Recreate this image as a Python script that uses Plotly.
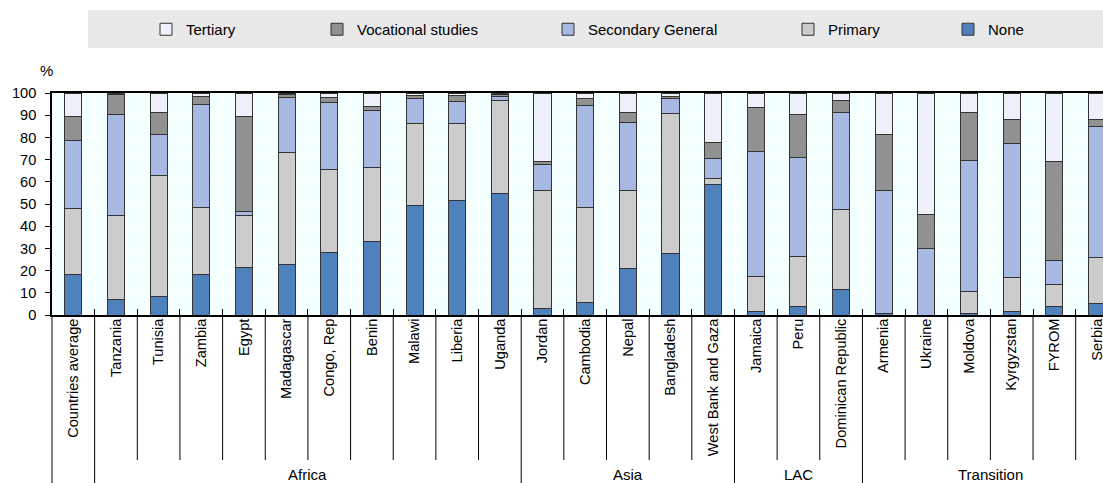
import plotly.graph_objects as go

countries = ["Countries average", "Tanzania", "Tunisia", "Zambia", "Egypt", "Madagascar",
             "Congo, Rep", "Benin", "Malawi", "Liberia", "Uganda", "Jordan", "Cambodia",
             "Nepal", "Bangladesh", "West Bank and Gaza", "Jamaica", "Peru",
             "Dominican Republic", "Armenia", "Ukraine", "Moldova", "Kyrgyzstan",
             "FYROM", "Serbia"]
regions = ["", "Africa", "Africa", "Africa", "Africa", "Africa", "Africa", "Africa",
           "Africa", "Africa", "Africa", "Asia", "Asia", "Asia", "Asia", "Asia",
           "LAC", "LAC", "LAC", "Transition", "Transition", "Transition",
           "Transition", "Transition", "Transition"]

none_vals = [18.4, 6.9, 8.4, 18.4, 21.5, 22.9, 28.3, 33.3, 49.2, 51.7, 54.8, 3.0, 5.7,
             21.1, 27.9, 58.9, 1.5, 3.8, 11.6, 0.5, 0.0, 0.8, 1.5, 3.9, 5.3]
primary_vals = [29.5, 38.1, 54.4, 30.1, 23.1, 50.4, 37.4, 33.3, 37.2, 34.7, 41.6, 53.2,
                42.8, 35.2, 62.9, 2.7, 15.7, 22.7, 36.1, 0.3, 0.0, 10.0, 15.5, 9.8, 20.6]
secondary_vals = [30.7, 45.2, 18.5, 46.2, 2.1, 24.7, 29.9, 25.3, 11.2, 9.8, 2.2, 11.4,
                  45.9, 30.4, 6.9, 8.7, 56.6, 44.3, 43.6, 55.4, 30.1, 58.9, 60.3, 10.8, 59.0]
vocational_vals = [10.7, 9.2, 10.0, 3.8, 42.6, 1.5, 2.6, 2.2, 1.5, 2.7, 0.8, 1.7, 3.0,
                   4.6, 0.6, 7.6, 19.7, 19.4, 5.1, 25.1, 15.1, 21.4, 10.8, 44.6, 3.1]
tertiary_vals = [10.7, 0.6, 8.7, 1.5, 10.7, 0.5, 1.8, 5.9, 0.9, 1.1, 0.6, 30.7, 2.6,
                 8.7, 1.7, 22.1, 6.5, 9.8, 3.6, 18.7, 54.8, 8.9, 11.9, 30.9, 12.0]

y_ticks = [0, 10, 20, 30, 40, 50, 60, 70, 80, 90, 100]

FONT = "Liberation Sans, Arial, sans-serif"
W, H = 1103, 483
ML, MR, MT, MB = 52, 0, 93, 168
PW = W - ML - MR
PH = H - MT - MB


def px_x(px):
    return (px - ML) / PW


def px_y(py):
    return (H - MB - py) / PH


series = [
    ("None", none_vals, "#4F81BD", "legend5", 948),
    ("Primary", primary_vals, "#CCCCCC", "legend4", 788),
    ("Secondary General", secondary_vals, "#A7B9E3", "legend3", 548),
    ("Vocational studies", vocational_vals, "#919191", "legend2", 317),
    ("Tertiary", tertiary_vals, "#EEF1F9", "legend", 146),
]

fig = go.Figure()
for name, vals, color, leg, _ in series:
    fig.add_trace(go.Bar(
        x=countries, y=vals, name=name, width=0.4, legend=leg, showlegend=True,
        marker=dict(color=color, line=dict(color="#333333", width=1)),
    ))

legends = {}
for name, vals, color, leg, lpx in series:
    legends[leg] = dict(
        x=px_x(lpx), xanchor="left", y=px_y(29.5), yanchor="middle",
        bgcolor="rgba(0,0,0,0)", borderwidth=0, visible=True,
        font=dict(family=FONT, size=15, color="#000000"),
    )

shapes = [dict(type="rect", xref="paper", yref="paper",
               x0=px_x(88), x1=1.0, y0=px_y(48), y1=px_y(10),
               fillcolor="#E9E9E9", line=dict(width=0), layer="below")]

# left edge separator below axis
shapes.append(dict(type="line", xref="paper", yref="paper", x0=0, x1=0,
                   y0=0, y1=px_y(483), line=dict(color="#000000", width=1)))
for k in range(1, len(countries)):
    is_group = regions[k] != regions[k - 1]
    shapes.append(dict(type="line", xref="x", yref="paper", x0=k - 0.5, x1=k - 0.5,
                       y0=0, y1=px_y(483 if is_group else 460),
                       line=dict(color="#000000", width=1)))

annotations = [dict(text="%", xref="paper", yref="paper", x=px_x(46), y=px_y(71),
                    xanchor="center", yanchor="middle", showarrow=False,
                    font=dict(family=FONT, size=15, color="#000000"))]
seen = []
for r in regions:
    if r and r not in seen:
        seen.append(r)
for r in seen:
    idx = [i for i, g in enumerate(regions) if g == r]
    annotations.append(dict(text=r, xref="x", yref="paper", x=sum(idx) / len(idx),
                            y=px_y(474), xanchor="center", yanchor="middle",
                            showarrow=False,
                            font=dict(family=FONT, size=15, color="#000000")))

fig.update_layout(
    width=W, height=H, barmode="stack", showlegend=True,
    margin=dict(l=ML, r=MR, t=MT, b=MB, pad=0, autoexpand=False),
    paper_bgcolor="#FFFFFF", plot_bgcolor="#F4FFFF",
    font=dict(family=FONT, size=15, color="#000000"),
    shapes=shapes, annotations=annotations,
    **legends,
)
fig.update_xaxes(
    type="category", range=[-0.5, 24.14], tickangle=-90, automargin=False,
    tickson="boundaries", ticks="inside", ticklen=6, tickcolor="#000000",
    ticklabelstandoff=-4,
    showline=True, linecolor="#000000", linewidth=1.5, mirror=True,
    showgrid=True, gridcolor="#FFFFFF", gridwidth=1,
    tickfont=dict(family=FONT, size=14.6, color="#000000"),
)
fig.update_yaxes(
    range=[0, 100], tickvals=y_ticks, ticks="outside", ticklen=5, tickcolor="#000000",
    automargin=False, ticklabelstandoff=6,
    showline=True, linecolor="#000000", linewidth=1.5, mirror=False,
    showgrid=True, gridcolor="#FFFFFF", gridwidth=1, zeroline=False,
    tickfont=dict(family=FONT, size=14.6, color="#000000"),
)

fig.write_html("out.html", config={"displayModeBar": False},
               post_script="document.body.style.margin='0';document.body.style.overflow='hidden';")
